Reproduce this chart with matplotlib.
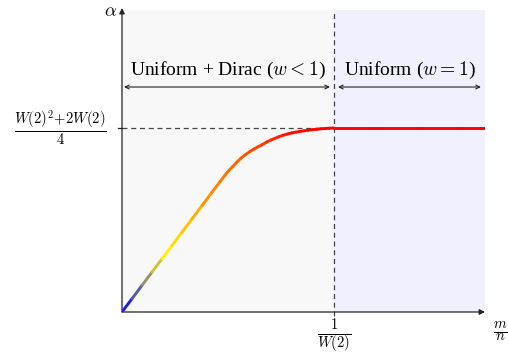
import numpy as np
import matplotlib
matplotlib.use("Agg")
import matplotlib.pyplot as plt
from matplotlib.collections import LineCollection
from matplotlib.colors import LinearSegmentedColormap

plt.rcParams['font.family'] = ['Liberation Serif', 'DejaVu Serif']
plt.rcParams['mathtext.fontset'] = 'cm'

# data: x in units of 1/W(2) (so the split is at 1), y in units of (W(2)^2+2W(2))/4
x_split = 1.0
y_plateau = 1.0
x_max = 1.7123
y_max = 1.6522
shade_top = 1.641

curve_x = [0.0, 0.0472, 0.0943, 0.1415, 0.1887, 0.2358, 0.2830, 0.3302, 0.3774, 0.4245,
           0.4623, 0.4858, 0.5047, 0.5236, 0.5425, 0.5613, 0.5825, 0.6038, 0.6226, 0.6415,
           0.6604, 0.6825, 0.7028, 0.7217, 0.7406, 0.7608, 0.7830, 0.8019, 0.8208, 0.8396,
           0.8585, 0.8774, 0.8986, 0.9198, 0.9387, 0.9575, 0.9788, 1.0, 1.2, 1.4, 1.6, 1.7123]
curve_y = [0.0, 0.0723, 0.1446, 0.2168, 0.2891, 0.3614, 0.4337, 0.5060, 0.5783, 0.6505,
           0.7084, 0.7435, 0.7701, 0.7924, 0.8152, 0.8359, 0.8554, 0.8723, 0.8859, 0.8978,
           0.9087, 0.9239, 0.9348, 0.9440, 0.9527, 0.9609, 0.9679, 0.9734, 0.9777, 0.9815,
           0.9848, 0.9880, 0.9908, 0.9935, 0.9957, 0.9973, 0.9989, 1.0, 1.0, 1.0, 1.0, 1.0]

region_labels = ["Uniform + Dirac ($w<1$)", "Uniform ($w=1$)"]
ytick_label = r'$\frac{W(2)^2\!+\!2W(2)}{4}$'
xtick_label = r'$\frac{1}{W(2)}$'
xlabel = r'$\frac{m}{n}$'
ylabel = r'$\alpha$'

fig = plt.figure(figsize=(5.08, 3.54), dpi=100)
ax = fig.add_axes([122/508, 42/354, 363/508, 304/354])
ax.set_xlim(0, x_max)
ax.set_ylim(0, y_max)
ax.axis('off')

ax.fill_between([0, x_split], 0, shade_top, color='#f8f8f8', lw=0, zorder=0)
ax.fill_between([x_split, x_max], 0, shade_top, color='#f0f0ff', lw=0, zorder=0)

# axes arrows
ax.annotate('', xy=(x_max, 0), xytext=(0, 0),
            arrowprops=dict(arrowstyle='-|>', lw=0.9, color='#222222',
                            mutation_scale=8, shrinkA=0, shrinkB=0), annotation_clip=False)
ax.annotate('', xy=(0, y_max), xytext=(0, 0),
            arrowprops=dict(arrowstyle='-|>', lw=0.9, color='#222222',
                            mutation_scale=8, shrinkA=0, shrinkB=0), annotation_clip=False)

# dashed guide lines
ax.plot([x_split, x_split], [-0.022, shade_top], ls=(0, (4, 3)), color='#444444', lw=0.9,
        clip_on=False, zorder=2)
ax.plot([0, x_split], [y_plateau, y_plateau], ls=(0, (4, 3)), color='#444444', lw=0.9, zorder=2)
# y tick
ax.plot([-0.018, 0.0], [y_plateau, y_plateau], color='#222222', lw=0.9, clip_on=False)

# colored curve
cmap = LinearSegmentedColormap.from_list('c', [(0, (0, 0, 1)), (0.1, (0.5, 0.5, 0.5)),
                                               (0.21, (1, 0.95, 0)), (0.42, (1, 0.55, 0)),
                                               (0.8, (1, 0.05, 0)), (1, (1, 0, 0))])
pts = np.array([curve_x, curve_y]).T.reshape(-1, 1, 2)
segs = np.concatenate([pts[:-1], pts[1:]], axis=1)
mids = (np.array(curve_x[:-1]) + np.array(curve_x[1:])) / 2
lc = LineCollection(segs, cmap=cmap, norm=plt.Normalize(0, x_split), lw=2.1,
                    capstyle='round', joinstyle='round', zorder=3)
lc.set_array(np.clip(mids, 0, x_split))
ax.add_collection(lc)

# region arrows and labels
ya = 1.2228
ax.annotate('', xy=(0.0094, ya), xytext=(0.981, ya),
            arrowprops=dict(arrowstyle='<->', lw=0.8, color='#222222', mutation_scale=7,
                            shrinkA=0, shrinkB=0))
ax.annotate('', xy=(1.019, ya), xytext=(1.693, ya),
            arrowprops=dict(arrowstyle='<->', lw=0.8, color='#222222', mutation_scale=7,
                            shrinkA=0, shrinkB=0))
ax.text(0.4976, 1.315, region_labels[0], ha='center', va='center', fontsize=14)
ax.text(1.3585, 1.315, region_labels[1], ha='center', va='center', fontsize=14)

# tick labels
ax.text(-0.288, y_plateau, ytick_label, ha='center', va='center', fontsize=15)
ax.text(x_split, -0.13, xtick_label, ha='center', va='center', fontsize=15)
ax.text(1.783, -0.108, xlabel, ha='center', va='center', fontsize=15)
ax.text(-0.0566, 1.630, ylabel, ha='center', va='center', fontsize=13)

fig.savefig('out.png', dpi=100)
